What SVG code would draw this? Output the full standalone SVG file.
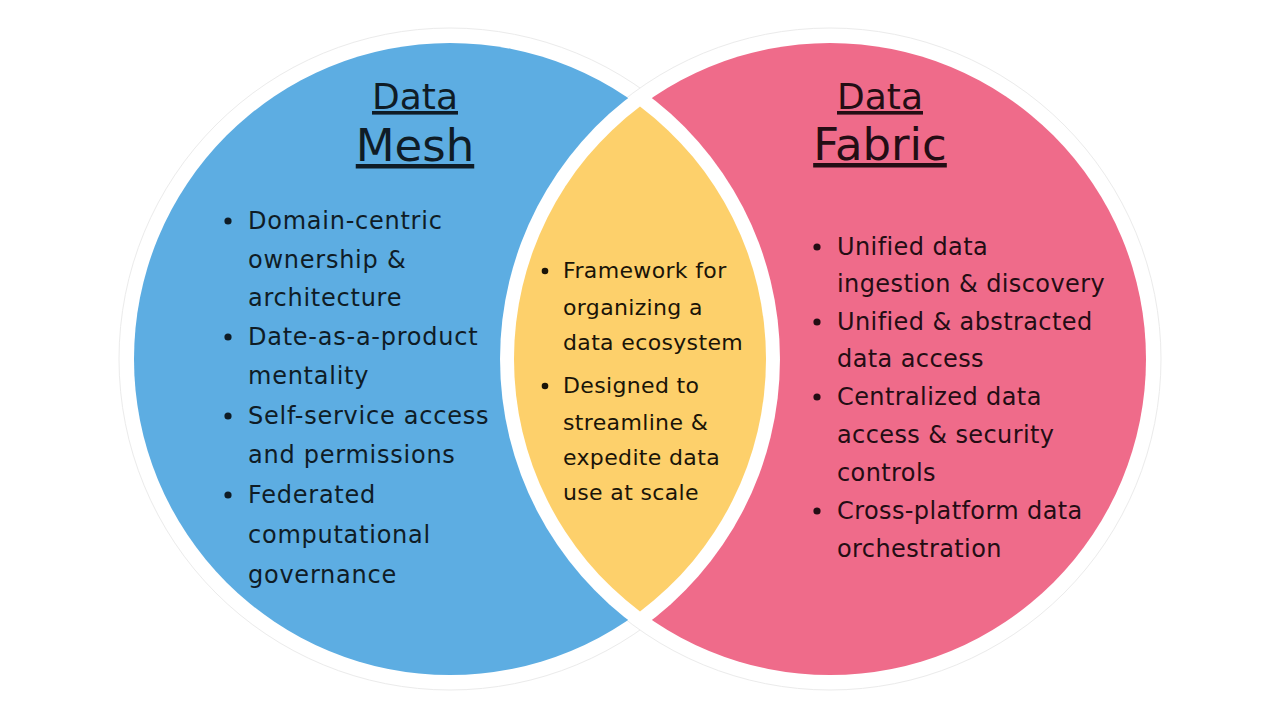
<svg xmlns="http://www.w3.org/2000/svg" width="1280" height="720" viewBox="0 0 1280 720">
  <style>
    .outer { fill: #ffffff; stroke: #ebebeb; stroke-width: 1; }
    .title { font-family: "DejaVu Sans", "Liberation Sans", sans-serif; text-anchor: middle; text-decoration: underline; }
    .t1 { font-size: 36px; }
    .t2 { font-size: 45px; }
    .body { font-family: "DejaVu Sans", "Liberation Sans", sans-serif; font-size: 24px; letter-spacing: 0.4px; }
    .body-l { font-family: "DejaVu Sans", "Liberation Sans", sans-serif; font-size: 24px; letter-spacing: 0.75px; }
    .mid { font-family: "DejaVu Sans", "Liberation Sans", sans-serif; font-size: 22px; letter-spacing: 0.35px; }
    .ink-blue { fill: #0f1c26; }
    .ink-pink { fill: #240d14; }
    .ink-yel { fill: #1a1408; }
  </style>
  <rect width="1280" height="720" fill="#ffffff"/>

  <g id="outer-rings">
    <circle class="outer" cx="450" cy="359" r="331"/>
    <circle class="outer" cx="830" cy="359" r="331"/>
  </g>

  <g id="data-mesh">
    <circle cx="450" cy="359" r="316" fill="#5dade2"/>
  </g>

  <g id="data-fabric">
    <circle cx="830" cy="359" r="316" fill="#ef6b8a"/>
  </g>

  <g id="overlap">
    <path d="M640,89.2 A330,330 0 0 1 640,628.8 A330,330 0 0 1 640,89.2 Z" fill="#ffffff"/>
    <path d="M640,106.5 A316,316 0 0 1 640,611.5 A316,316 0 0 1 640,106.5 Z" fill="#fdd06b"/>
  </g>

  <g id="mesh-text">
    <text class="title t1 ink-blue" x="415" y="109">Data</text>
    <text class="title t2 ink-blue" x="415" y="161">Mesh</text>
    <g class="ink-blue">
      <circle cx="228" cy="221" r="3.6"/>
      <circle cx="228" cy="337" r="3.6"/>
      <circle cx="228" cy="416" r="3.6"/>
      <circle cx="228" cy="495" r="3.6"/>
    </g>
    <g class="body-l ink-blue">
      <text x="248" y="229">Domain-centric</text>
      <text x="248" y="268">ownership &amp;</text>
      <text x="248" y="306">architecture</text>
      <text x="248" y="345">Date-as-a-product</text>
      <text x="248" y="384">mentality</text>
      <text x="248" y="424">Self-service access</text>
      <text x="248" y="463">and permissions</text>
      <text x="248" y="503">Federated</text>
      <text x="248" y="543">computational</text>
      <text x="248" y="583">governance</text>
    </g>
  </g>

  <g id="overlap-text">
    <g class="ink-yel">
      <circle cx="545" cy="271" r="3.3"/>
      <circle cx="545" cy="386" r="3.3"/>
    </g>
    <g class="mid ink-yel">
      <text x="563" y="278">Framework for</text>
      <text x="563" y="315">organizing a</text>
      <text x="563" y="350">data ecosystem</text>
      <text x="563" y="393">Designed to</text>
      <text x="563" y="430">streamline &amp;</text>
      <text x="563" y="465">expedite data</text>
      <text x="563" y="500">use at scale</text>
    </g>
  </g>

  <g id="fabric-text">
    <text class="title t1 ink-pink" x="880" y="109">Data</text>
    <text class="title t2 ink-pink" x="880" y="160">Fabric</text>
    <g class="ink-pink">
      <circle cx="817" cy="247" r="3.6"/>
      <circle cx="817" cy="322" r="3.6"/>
      <circle cx="817" cy="397" r="3.6"/>
      <circle cx="817" cy="511" r="3.6"/>
    </g>
    <g class="body ink-pink">
      <text x="837" y="255">Unified data</text>
      <text x="837" y="292">ingestion &amp; discovery</text>
      <text x="837" y="330">Unified &amp; abstracted</text>
      <text x="837" y="367">data access</text>
      <text x="837" y="405">Centralized data</text>
      <text x="837" y="443">access &amp; security</text>
      <text x="837" y="481">controls</text>
      <text x="837" y="519">Cross-platform data</text>
      <text x="837" y="557">orchestration</text>
    </g>
  </g>
</svg>
